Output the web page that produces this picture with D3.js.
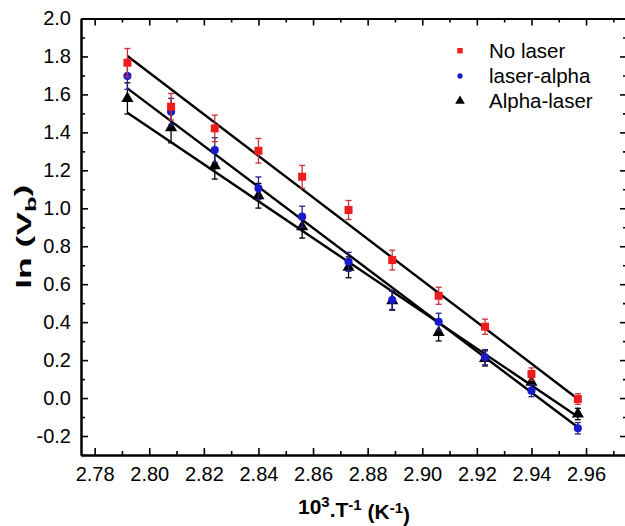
<!DOCTYPE html>
<html><head><meta charset="utf-8">
<script src="https://cdn.jsdelivr.net/npm/d3@7"></script>
<style>
body{margin:0;background:#fff}
svg{display:block}
text{font-family:"Liberation Sans",Arial,sans-serif;fill:#000}
</style>
</head><body>
<svg id="c" width="625" height="526"></svg>
<script>
// ---- data ----
const xValues = [2.792, 2.808, 2.824, 2.840, 2.856, 2.873, 2.889, 2.906, 2.923, 2.940, 2.957];
const noLaser      = [1.767, 1.535, 1.421, 1.303, 1.166, 0.991, 0.727, 0.539, 0.376, 0.127, -0.005];
const noLaserErr   = [0.075, 0.070, 0.070, 0.065, 0.060, 0.050, 0.052, 0.045, 0.040, 0.032, 0.028];
const laserAlpha   = [1.697, 1.509, 1.307, 1.105, 0.956, 0.718, 0.517, 0.402, 0.215, 0.039, -0.159];
const laserAlphaErr= [0.070, 0.070, 0.065, 0.060, 0.055, 0.050, 0.050, 0.045, 0.040, 0.032, 0.030];
const alphaLaser   = [1.579, 1.425, 1.224, 1.066, 0.903, 0.689, 0.513, 0.346, 0.209, 0.083, -0.084];
const alphaLaserErr= [0.082, 0.080, 0.070, 0.065, 0.060, 0.055, 0.050, 0.045, 0.040, 0.035, 0.030];
const seriesNames  = ["No laser", "laser-alpha", "Alpha-laser"];
const fitStart     = [1.802, 1.632, 1.503];   // fitted line value at first x
const fitEnd       = [-0.005, -0.154, -0.098]; // fitted line value at last x
const xTicks       = [2.78, 2.80, 2.82, 2.84, 2.86, 2.88, 2.90, 2.92, 2.94, 2.96];
const xTickLabels  = ["2.78","2.80","2.82","2.84","2.86","2.88","2.90","2.92","2.94","2.96"];
const xMinorTicks  = [2.79, 2.81, 2.83, 2.85, 2.87, 2.89, 2.91, 2.93, 2.95, 2.97];
const yTicks       = [-0.2, 0.0, 0.2, 0.4, 0.6, 0.8, 1.0, 1.2, 1.4, 1.6, 1.8, 2.0];
const yTickLabels  = ["-0.2","0.0","0.2","0.4","0.6","0.8","1.0","1.2","1.4","1.6","1.8","2.0"];
const yMinorTicks  = [-0.3, -0.1, 0.1, 0.3, 0.5, 0.7, 0.9, 1.1, 1.3, 1.5, 1.7, 1.9];

// ---- styles ----
const colors    = ["#ee1c1c", "#1a1acc", "#000000"];
const errColors = ["#c8323a", "#22228a", "#000000"];
const shapes    = [d3.symbolSquare, d3.symbolCircle, d3.symbolTriangle];
const sizes     = [64, 52, 64];
const legendSizes = [30, 22, 40];

const svg = d3.select("#c");
const L = 81, R = 627, T = 18.5, B = 455;
const x = d3.scaleLinear().domain([2.775, 2.975]).range([L, R]);
const y = d3.scaleLinear().domain([-0.3, 2.0]).range([B, T]);

const series = [
  {name: seriesNames[0], v: noLaser, e: noLaserErr},
  {name: seriesNames[1], v: laserAlpha, e: laserAlphaErr},
  {name: seriesNames[2], v: alphaLaser, e: alphaLaserErr}
];

// ---- axes (ticks inward on all four sides) ----
function styleAxis(g){
  g.select(".domain").attr("stroke","#000").attr("stroke-width",2);
  g.selectAll(".tick line").attr("stroke","#000").attr("stroke-width",1.6);
  g.selectAll("text").attr("font-size","20px").attr("fill","#000")
    .attr("font-family",'"Liberation Sans",Arial,sans-serif');
}
const xMajorFmt = (d)=> xTickLabels[xTicks.indexOf(d)];
const yMajorFmt = (d)=> yTickLabels[yTicks.indexOf(d)];

svg.append("g").attr("transform",`translate(0,${B})`)
  .call(d3.axisBottom(x).tickValues(xTicks).tickFormat(xMajorFmt).tickSize(-7).tickSizeOuter(0).tickPadding(12))
  .call(styleAxis);
svg.append("g").attr("transform",`translate(0,${B})`)
  .call(d3.axisBottom(x).tickValues(xMinorTicks).tickFormat("").tickSize(-4).tickSizeOuter(0))
  .call(styleAxis);
svg.append("g").attr("transform",`translate(0,${T})`)
  .call(d3.axisTop(x).tickValues(xTicks).tickFormat("").tickSize(-7).tickSizeOuter(0))
  .call(styleAxis);
svg.append("g").attr("transform",`translate(0,${T})`)
  .call(d3.axisTop(x).tickValues(xMinorTicks).tickFormat("").tickSize(-4).tickSizeOuter(0))
  .call(styleAxis);
svg.append("g").attr("transform",`translate(${L},0)`)
  .call(d3.axisLeft(y).tickValues(yTicks).tickFormat(yMajorFmt).tickSize(-7).tickSizeOuter(0).tickPadding(10))
  .call(styleAxis);
svg.append("g").attr("transform",`translate(${L},0)`)
  .call(d3.axisLeft(y).tickValues(yMinorTicks).tickFormat("").tickSize(-4).tickSizeOuter(0))
  .call(styleAxis);
svg.append("g").attr("transform",`translate(${R},0)`)
  .call(d3.axisRight(y).tickValues(yTicks).tickFormat("").tickSize(-7).tickSizeOuter(0))
  .call(styleAxis);
svg.append("g").attr("transform",`translate(${R},0)`)
  .call(d3.axisRight(y).tickValues(yMinorTicks).tickFormat("").tickSize(-4).tickSizeOuter(0))
  .call(styleAxis);

// ---- fit lines ----
const x0 = xValues[0], x1 = xValues[xValues.length-1];
svg.append("g").selectAll("line").data(fitStart).join("line")
  .attr("x1", x(x0)).attr("x2", x(x1))
  .attr("y1", (d)=>y(d)).attr("y2", (d,i)=>y(fitEnd[i]))
  .attr("stroke","#000").attr("stroke-width",2.4);

// ---- error bars + markers ----
const order = [2,1,0];
order.forEach(si=>{
  const s = series[si];
  const g = svg.append("g");
  const pts = xValues.map((xv,i)=>({x:xv, v:s.v[i], e:s.e[i]}));
  g.selectAll("line.eb").data(pts).join("line").attr("class","eb")
    .attr("x1",d=>x(d.x)).attr("x2",d=>x(d.x))
    .attr("y1",d=>y(d.v+d.e)).attr("y2",d=>y(d.v-d.e))
    .attr("stroke",errColors[si]).attr("stroke-width",1.3);
  ["top","bot"].forEach(k=>{
    g.selectAll("line.cap"+k).data(pts).join("line").attr("class","cap"+k)
      .attr("x1",d=>x(d.x)-3).attr("x2",d=>x(d.x)+3)
      .attr("y1",d=>y(k==="top"?d.v+d.e:d.v-d.e)).attr("y2",d=>y(k==="top"?d.v+d.e:d.v-d.e))
      .attr("stroke",errColors[si]).attr("stroke-width",1.3);
  });
  g.selectAll("path").data(pts).join("path")
    .attr("transform",d=>`translate(${x(d.x)},${y(d.v)})`)
    .attr("d", d3.symbol().type(shapes[si]).size(sizes[si])())
    .attr("fill",colors[si]);
});

// ---- legend ----
const legend = svg.append("g");
const legRowY = [50.7, 76, 101];
series.forEach((s,i)=>{
  legend.append("path").attr("transform",`translate(460,${legRowY[i]})`)
    .attr("d", d3.symbol().type(shapes[i]).size(legendSizes[i])())
    .attr("fill",colors[i]);
  legend.append("text").attr("x",489).attr("y",legRowY[i]).attr("dy","0.35em")
    .attr("font-size","20.5px").text(s.name);
});

// ---- axis titles ----
const xt = svg.append("text").attr("x",354).attr("y",514).attr("text-anchor","middle")
  .attr("font-size","21px").attr("font-weight","bold");
xt.append("tspan").text("10");
xt.append("tspan").attr("dy","-0.45em").attr("font-size","15px").text("3");
xt.append("tspan").attr("dy","0.45em").text(".T");
xt.append("tspan").attr("dy","-0.45em").attr("font-size","15px").text("-1");
xt.append("tspan").attr("dy","0.45em").text(" (K");
xt.append("tspan").attr("dy","-0.45em").attr("font-size","15px").text("-1");
xt.append("tspan").attr("dy","0.45em").text(")");

const yt = svg.append("text").attr("transform",`translate(31,${(T+B)/2}) rotate(-90)`)
  .attr("text-anchor","middle").attr("font-size","21px").attr("font-weight","bold")
  .attr("textLength",104).attr("lengthAdjust","spacingAndGlyphs");
yt.append("tspan").text("ln (V");
yt.append("tspan").attr("dy","0.3em").attr("font-size","15px").text("b");
yt.append("tspan").attr("dy","-0.3em").text(")");
</script>
</body></html>
